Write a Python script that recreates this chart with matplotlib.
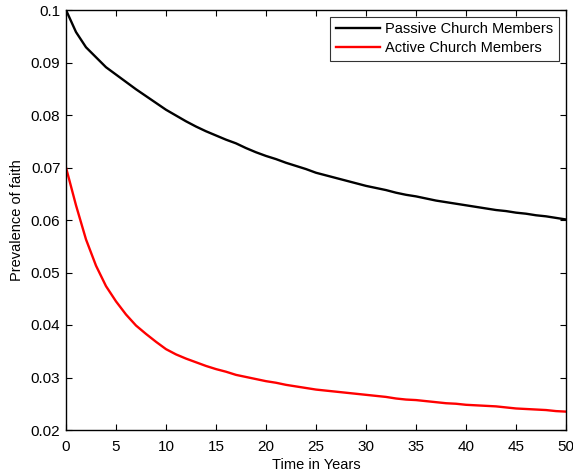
import matplotlib
matplotlib.use("Agg")
import matplotlib.pyplot as plt
import numpy as np

plt.rcParams['font.family'] = ['Liberation Sans', 'DejaVu Sans']

years = list(range(0, 51))
passive = [0.1000, 0.0958, 0.0929, 0.0910, 0.0891, 0.0877, 0.0863, 0.0849, 0.0836, 0.0823,
           0.0810, 0.0799, 0.0788, 0.0778, 0.0769, 0.0761, 0.0753, 0.0746, 0.0737, 0.0729,
           0.0722, 0.0716, 0.0709, 0.0703, 0.0697, 0.0690, 0.0685, 0.0680, 0.0675, 0.0670,
           0.0665, 0.0661, 0.0657, 0.0652, 0.0648, 0.0645, 0.0641, 0.0637, 0.0634, 0.0631,
           0.0628, 0.0625, 0.0622, 0.0619, 0.0617, 0.0614, 0.0612, 0.0609, 0.0607, 0.0604,
           0.0601]
active = [0.0700, 0.0628, 0.0563, 0.0513, 0.0474, 0.0445, 0.0420, 0.0399, 0.0383, 0.0368,
          0.0354, 0.0344, 0.0336, 0.0329, 0.0322, 0.0316, 0.0311, 0.0305, 0.0301, 0.0297,
          0.0293, 0.0290, 0.0286, 0.0283, 0.0280, 0.0277, 0.0275, 0.0273, 0.0271, 0.0269,
          0.0267, 0.0265, 0.0263, 0.0260, 0.0258, 0.0257, 0.0255, 0.0253, 0.0251, 0.0250,
          0.0248, 0.0247, 0.0246, 0.0245, 0.0243, 0.0241, 0.0240, 0.0239, 0.0238, 0.0236,
          0.0235]
series_labels = ['Passive Church Members', 'Active Church Members']
xticks = [0, 5, 10, 15, 20, 25, 30, 35, 40, 45, 50]
yticks = [0.02, 0.03, 0.04, 0.05, 0.06, 0.07, 0.08, 0.09, 0.1]
ytick_labels = ['0.02', '0.03', '0.04', '0.05', '0.06', '0.07', '0.08', '0.09', '0.1']

fig = plt.figure(figsize=(5.73, 4.74), dpi=100)
ax = fig.add_axes([66/573, 1-430/474, 500/573, 420/474])

ax.plot(years, passive, color='black', lw=1.7, label=series_labels[0])
ax.plot(years, active, color='red', lw=1.7, label=series_labels[1])

ax.set_xlim(0, 50)
ax.set_ylim(0.02, 0.1)
ax.set_xticks(xticks)
ax.set_xticklabels([str(t) for t in xticks])
ax.set_yticks(yticks)
ax.set_yticklabels(ytick_labels)
ax.tick_params(direction='in', top=True, right=True, length=4, width=0.8,
               labelsize=11)
ax.tick_params(axis='x', pad=7)
ax.tick_params(axis='y', pad=4)
for s in ax.spines.values():
    s.set_linewidth(1.0)

ax.set_xlabel('Time in Years', fontsize=10.5, labelpad=3)
ax.set_ylabel('Prevalence of faith', fontsize=10.5, labelpad=5)

leg = ax.legend(loc='upper right', fontsize=10.5, frameon=True, fancybox=False,
                edgecolor='black', handlelength=3.0, borderaxespad=0.45,
                labelspacing=0.3, handletextpad=0.4, borderpad=0.4)
leg.get_frame().set_linewidth(0.8)

fig.savefig('out.png', dpi=100)
